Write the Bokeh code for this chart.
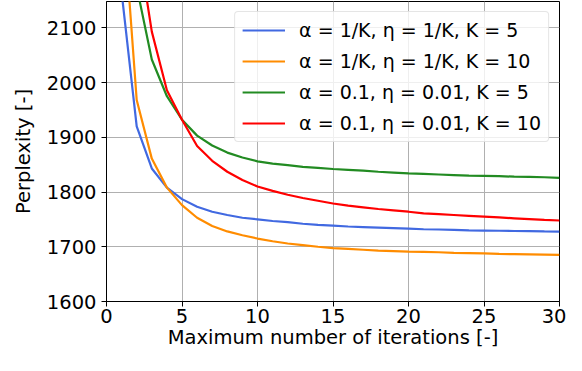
from bokeh.plotting import figure
from bokeh.models import Range1d, FixedTicker, Legend, LegendItem
from bokeh.embed import file_html
from bokeh.resources import INLINE

iterations = list(range(1, 31))
blue_k5 = [2165, 1920, 1843, 1808, 1787, 1773, 1764, 1758, 1753, 1750,
           1747, 1745, 1742, 1740, 1738.5, 1737, 1736, 1735, 1734, 1733,
           1732, 1731.5, 1731, 1730, 1729.6, 1729.2, 1728.8, 1728.4, 1728, 1727.8]
orange_k10 = [2345, 1968, 1861, 1808, 1776, 1753, 1738, 1728, 1721, 1715,
              1710, 1706, 1703, 1700, 1697.5, 1696, 1694.5, 1693, 1692, 1691,
              1690.5, 1690, 1689, 1688.5, 1688, 1687, 1686.5, 1686, 1685.5, 1685]
green_k5 = [2550, 2175, 2042, 1975, 1932, 1903, 1885, 1872, 1863, 1856,
            1852, 1849, 1846, 1844, 1842, 1840.5, 1839, 1837, 1835.5, 1834,
            1833, 1832, 1831, 1830, 1829.5, 1829, 1828, 1827.5, 1827, 1826]
red_k10 = [2700, 2270, 2093, 1986, 1932, 1884, 1857, 1837, 1822, 1810,
           1802, 1795, 1789, 1784, 1779, 1775, 1772, 1769, 1766.5, 1764,
           1761, 1759.5, 1758, 1756.5, 1755, 1753.5, 1752, 1750.5, 1749, 1748]
labels = ["α = 1/K, η = 1/K, K = 5", "α = 1/K, η = 1/K, K = 10",
          "α = 0.1, η = 0.01, K = 5", "α = 0.1, η = 0.01, K = 10"]
colors = ["#4169E1", "#FF8C00", "#228B22", "#FF0000"]
x_ticks = [0, 5, 10, 15, 20, 25, 30]
y_ticks = [1600, 1700, 1800, 1900, 2000, 2100]

FONT = "DejaVu Sans"
FS = "19.5px"

p = figure(width=566, height=355, output_backend="svg", toolbar_location=None,
           x_range=Range1d(0, 30), y_range=Range1d(1600, 2148),
           min_border_left=106, min_border_right=7, min_border_top=1,
           min_border_bottom=54)

p.outline_line_color = "black"
p.outline_line_width = 1

renderers = []
for ys, c in zip([blue_k5, orange_k10, green_k5, red_k10], colors):
    r = p.line(iterations, ys, line_color=c, line_width=2.2)
    renderers.append(r)

p.xaxis.ticker = FixedTicker(ticks=x_ticks)
p.yaxis.ticker = FixedTicker(ticks=y_ticks)
p.xaxis.axis_label = "Maximum number of iterations [-]"
p.yaxis.axis_label = "Perplexity [-]"
for ax in (p.xaxis, p.yaxis):
    ax.axis_label_text_font = FONT
    ax.axis_label_text_font_size = FS
    ax.axis_label_text_font_style = "normal"
    ax.axis_label_text_color = "black"
    ax.major_label_text_font = FONT
    ax.major_label_text_font_size = FS
    ax.major_label_text_color = "black"
    ax.major_tick_out = 5
    ax.major_tick_in = 0
    ax.minor_tick_out = 0
    ax.minor_tick_in = 0
    ax.axis_line_color = "black"
    ax.major_tick_line_color = "black"
p.xaxis.major_label_standoff = 2
p.yaxis.major_label_standoff = 5
p.xaxis.axis_label_standoff = 0
p.yaxis.axis_label_standoff = 9

p.xgrid.grid_line_color = "#b0b0b0"
p.ygrid.grid_line_color = "#b0b0b0"
p.xgrid.grid_line_width = 1
p.ygrid.grid_line_width = 1

legend = Legend(items=[LegendItem(label=l, renderers=[r]) for l, r in zip(labels, renderers)],
                location="top_right")
legend.label_text_font = FONT
legend.label_text_font_size = "19px"
legend.label_text_color = "black"
legend.glyph_width = 43
legend.glyph_height = 20
legend.label_height = 20
legend.spacing = 9
legend.label_standoff = 14
legend.padding = 7
legend.margin = 10
legend.border_line_color = "#cccccc"
legend.border_line_width = 1
legend.background_fill_alpha = 0.8
try:
    legend.border_radius = 4
except Exception:
    pass
p.add_layout(legend)

open("out.html", "w").write(file_html(p, INLINE))
